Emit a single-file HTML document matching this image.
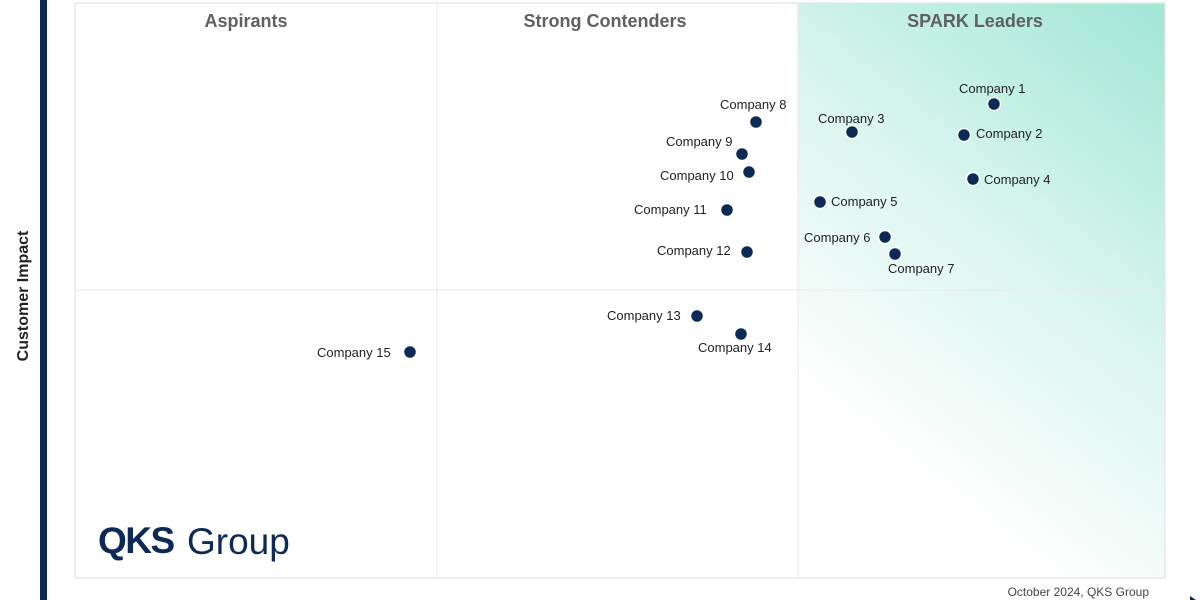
<!DOCTYPE html>
<html><head><meta charset="utf-8"><style>
html,body{margin:0;padding:0;background:#fff;}
svg{display:block;font-family:"Liberation Sans",Arial,sans-serif;}
</style></head><body>
<svg width="1200" height="600" viewBox="0 0 1200 600" xmlns="http://www.w3.org/2000/svg">
<defs>
<linearGradient id="g" x1="1170" y1="30" x2="860" y2="430" gradientUnits="userSpaceOnUse">
<stop offset="0" stop-color="#a4e7d6"/>
<stop offset="0.5" stop-color="#d8f5ee"/>
<stop offset="1" stop-color="#ffffff"/>
</linearGradient>
</defs>
<rect x="0" y="0" width="1200" height="600" fill="#fff"/>
<rect x="798" y="3" width="367" height="575" fill="url(#g)"/>
<rect x="75" y="3" width="1090" height="575" fill="none" stroke="#e8e8e8" stroke-width="1.5"/>
<line x1="437" y1="3" x2="437" y2="578" stroke="#ebebeb" stroke-width="1.2"/>
<line x1="798" y1="3" x2="798" y2="578" stroke="#ebebeb" stroke-width="1.2"/>
<line x1="75" y1="290" x2="1165" y2="290" stroke="#ebebeb" stroke-width="1.2"/>
<rect x="40" y="0" width="7" height="600" fill="#0c2a55"/>
<text x="28" y="296" transform="rotate(-90 28 296)" text-anchor="middle" font-size="16" font-weight="bold" fill="#222">Customer Impact</text>
<g font-size="18" font-weight="bold" fill="#606060" text-anchor="middle">
<text x="246" y="27">Aspirants</text>
<text x="605" y="27">Strong Contenders</text>
<text x="975" y="27">SPARK Leaders</text>
</g>
<text x="98" y="553" font-size="37" font-weight="bold" fill="#0c2a55" letter-spacing="-1.5">QKS</text>
<text x="187" y="554" font-size="37" fill="#0c2a55">Group</text>
<text x="1149" y="596" font-size="12" fill="#444" text-anchor="end">October 2024, QKS Group</text>
<path d="M1190 596 L1196 600 L1190 600Z" fill="#0c2a55"/>
<g fill="#0c2a55" stroke="#fff" stroke-width="1.5">
<circle cx="994" cy="104" r="6.5"/>
<circle cx="964" cy="135" r="6.5"/>
<circle cx="852" cy="132" r="6.5"/>
<circle cx="973" cy="179" r="6.5"/>
<circle cx="820" cy="202" r="6.5"/>
<circle cx="885" cy="237" r="6.5"/>
<circle cx="895" cy="254" r="6.5"/>
<circle cx="756" cy="122" r="6.5"/>
<circle cx="742" cy="154" r="6.5"/>
<circle cx="749" cy="172" r="6.5"/>
<circle cx="727" cy="210" r="6.5"/>
<circle cx="747" cy="252" r="6.5"/>
<circle cx="697" cy="316" r="6.5"/>
<circle cx="741" cy="334" r="6.5"/>
<circle cx="410" cy="352" r="6.5"/>
</g>
<g font-size="13" fill="#222">
<text x="959" y="93">Company 1</text>
<text x="976" y="138">Company 2</text>
<text x="818" y="123">Company 3</text>
<text x="984" y="184">Company 4</text>
<text x="831" y="206">Company 5</text>
<text x="804" y="242">Company 6</text>
<text x="888" y="273">Company 7</text>
<text x="720" y="109">Company 8</text>
<text x="666" y="146">Company 9</text>
<text x="660" y="180">Company 10</text>
<text x="634" y="214">Company 11</text>
<text x="657" y="255">Company 12</text>
<text x="607" y="320">Company 13</text>
<text x="698" y="352">Company 14</text>
<text x="317" y="357">Company 15</text>
</g>
</svg>
</body></html>
